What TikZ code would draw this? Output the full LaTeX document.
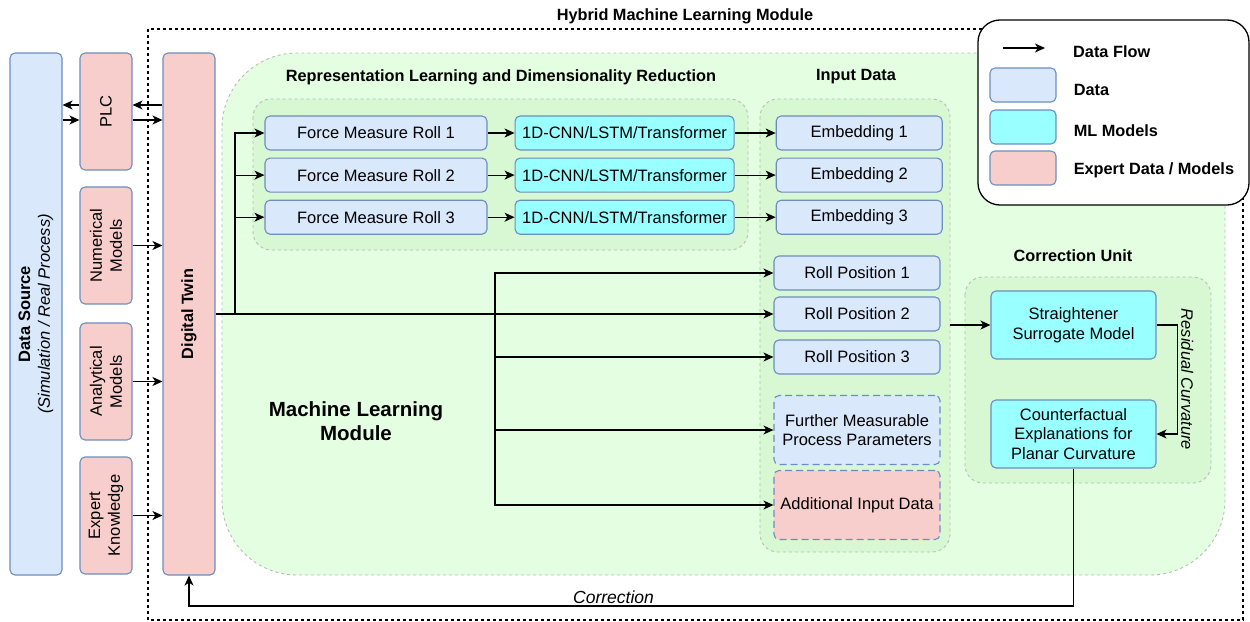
\documentclass[tikz,border=0pt]{standalone}
\usepackage{fontspec}
\setmainfont{Liberation Sans}
\usetikzlibrary{positioning,calc,arrows.meta}
\tikzset{>={Stealth[length=10pt,width=9pt,inset=2.8pt]}}
\definecolor{dblue}{HTML}{DAE8FC}
\definecolor{dline}{HTML}{6C8EBF}
\definecolor{mcyan}{HTML}{99FFFF}
\definecolor{epink}{HTML}{F8CECC}
\definecolor{mlgreen}{HTML}{E3FEE0}
\definecolor{grpgreen}{HTML}{D7F8D3}
\definecolor{grpline}{HTML}{BBBBBB}
\newcommand*{\fs}[1]{\fontsize{#1}{1.2\dimexpr#1pt\relax}\selectfont}
\tikzset{
  box/.style={draw=dline,line width=1.1pt,rounded corners=5pt,align=center,inner sep=0pt,font=\fs{16.5}},
  data/.style={box,fill=dblue},
  mlm/.style={box,fill=mcyan},
  expt/.style={box,fill=epink},
  grp/.style={draw=grpline,dashed,line width=.9pt,rounded corners=18pt,fill=grpgreen},
  flow/.style={->,line width=1.2pt},
  hd/.style={font=\bfseries\fs{16.3}},
}

\begin{document}
\begin{tikzpicture}[x=1pt,y=-1pt]
\useasboundingbox (0,0) rectangle (1250,621);
\draw[line width=1.2pt,dash pattern=on 3pt off 3pt] (148,29) rectangle (1243,620);
\node[hd] (hml) at (685,16) {Hybrid Machine Learning Module};
\draw[grp,fill=mlgreen,rounded corners=75pt] (222,53) rectangle (1225,575);
\draw[grp] (253,99) rectangle (748,250);
\draw[grp] (760,99) coordinate (ing0) rectangle (950,552) coordinate (ing1);
\draw[grp] (965,277) rectangle (1211,483);
\node[hd] (trl) at (501,77) {Representation Learning and Dimensionality Reduction};
\node[hd] (tin) at (856,77) {Input Data};
\node[hd] (tcu) at (1073,256) {Correction Unit};
\node[font=\bfseries\fs{20.5},align=center] (tml) at (356,421) {Machine Learning\\Module};
% left column
\node[data,rotate=90,minimum width=522pt,minimum height=52pt] (ds) at (36,314)
  {\textbf{Data Source}\\\textit{(Simulation / Real Process)}};
\node[expt,rotate=90,minimum width=117pt,minimum height=52pt] (plc) at (106,111.5) {PLC};
\node[expt,rotate=90,minimum width=117pt,minimum height=52pt] (num) at (106,245.5) {Numerical\\Models};
\node[expt,rotate=90,minimum width=117pt,minimum height=52pt] (ana) at (106,381.5) {Analytical\\Models};
\node[expt,rotate=90,minimum width=117pt,minimum height=52pt] (exk) at (106,515.5) {Expert\\Knowledge};
\node[expt,rotate=90,minimum width=522pt,minimum height=52pt,font=\bfseries\fs{16.3}] (dt) at (189,314) {Digital Twin};
\draw[flow] (plc.north |- 0,105) -- (ds.south |- 0,105);
\draw[flow] (ds.south |- 0,120) -- (plc.north |- 0,120);
\draw[flow] (dt.north |- 0,105) -- (plc.south |- 0,105);
\draw[flow] (plc.south |- 0,120) -- (dt.north |- 0,120);
\draw[flow] (num.south) -- (dt.north |- num.south);
\draw[flow] (ana.south) -- (dt.north |- ana.south);
\draw[flow] (exk.south) -- (dt.north |- exk.south);
% representation learning
\node[data,minimum width=222pt,minimum height=34pt] (f1) at (376,133) {Force Measure Roll 1};
\node[data,minimum width=222pt,minimum height=34pt,below=7pt of f1] (f2) {Force Measure Roll 2};
\node[data,minimum width=222pt,minimum height=34pt,below=7pt of f2] (f3) {Force Measure Roll 3};
\node[mlm,minimum width=219pt,minimum height=34pt,right=27pt of f1] (c1) {1D-CNN/LSTM/Transformer};
\node[mlm,minimum width=219pt,minimum height=34pt,right=27pt of f2] (c2) {1D-CNN/LSTM/Transformer};
\node[mlm,minimum width=219pt,minimum height=34pt,right=27pt of f3] (c3) {1D-CNN/LSTM/Transformer};
% input data
\node[data,minimum width=166pt,minimum height=34pt,right=41pt of c1] (e1) {Embedding 1};
\node[data,minimum width=166pt,minimum height=34pt,right=41pt of c2] (e2) {Embedding 2};
\node[data,minimum width=166pt,minimum height=34pt,right=41pt of c3] (e3) {Embedding 3};
\node[data,minimum width=166pt,minimum height=34pt] (rp1) at (857,273) {Roll Position 1};
\node[data,minimum width=166pt,minimum height=34pt] (rp2) at (857,314) {Roll Position 2};
\node[data,minimum width=166pt,minimum height=34pt] (rp3) at (857,357) {Roll Position 3};
\node[data,dashed,dash pattern=on 7pt off 4pt,minimum width=166pt,minimum height=69pt] (fu) at (857,430)
  {Further Measurable\\Process Parameters};
\node[expt,dashed,dash pattern=on 7pt off 4pt,minimum width=166pt,minimum height=69pt] (ad) at (857,505)
  {Additional Input Data};
\foreach \i in {1,2,3} {
  \draw[flow] (f\i) -- (c\i);
  \draw[flow] (c\i) -- (e\i);
}
% distribution from the digital twin
\coordinate (j1) at (235,314);
\coordinate (j2) at (495,314);
\draw[line width=2pt] (dt.south |- rp2) -- (j2);
\draw[flow] (j2) -- (rp2);
\draw[flow] (j1) |- (f1);
\draw[flow] (j1 |- f2) -- (f2);
\draw[flow] (j1 |- f3) -- (f3);
\draw[flow] (j2) |- (rp1);
\draw[flow] (j2) |- (ad);
\draw[flow] (j2 |- rp3) -- (rp3);
\draw[flow] (j2 |- fu) -- (fu);
% correction unit
\node[mlm,minimum width=165pt,minimum height=68pt] (st) at (1073.5,325) {Straightener\\Surrogate Model};
\node[mlm,minimum width=165pt,minimum height=68pt] (cf) at (1073.5,434) {Counterfactual\\Explanations for\\Planar Curvature};
\draw[flow] (ing1 |- st) -- (st);
\draw[flow] (st.east) -- ++(21,0) coordinate (r1) -- (r1 |- cf.east)
  node[midway,rotate=-90,anchor=south,inner sep=3pt,font=\itshape\fs{16.5}] {Residual Curvature} -- (cf.east);
\coordinate (cb) at (cf.south |- 0,606);
\draw[flow] (cf.south) -- (cb) -- node[above,pos=.52,inner sep=2pt,font=\itshape\fs{17.5}] {Correction} (dt.west |- cb) -- (dt.west);
% legend
\draw[line width=1.3pt,rounded corners=22pt,fill=white] (978,20) rectangle (1249,205);
\coordinate (la) at (1003,48);
\coordinate (lb) at (1045,48);
\draw[flow] (la) -- (lb);
\node[hd,anchor=west,inner sep=0pt] (lf) at (1073,52) {Data Flow};
\node[data,minimum width=66pt,minimum height=34pt] (kd) at (1023,85) {};
\node[mlm,minimum width=66pt,minimum height=34pt] (km) at (1023,127) {};
\node[expt,minimum width=66pt,minimum height=34pt] (ke) at (1023,168) {};
\node[hd,inner sep=0pt,right=17pt of kd,yshift=-5pt] (lkd) {Data};
\node[hd,inner sep=0pt,right=17pt of km,yshift=-4pt] (lkm) {ML Models};
\node[hd,inner sep=0pt,right=17pt of ke,yshift=-2pt] (lke) {Expert Data / Models};
\end{tikzpicture}
\end{document}
